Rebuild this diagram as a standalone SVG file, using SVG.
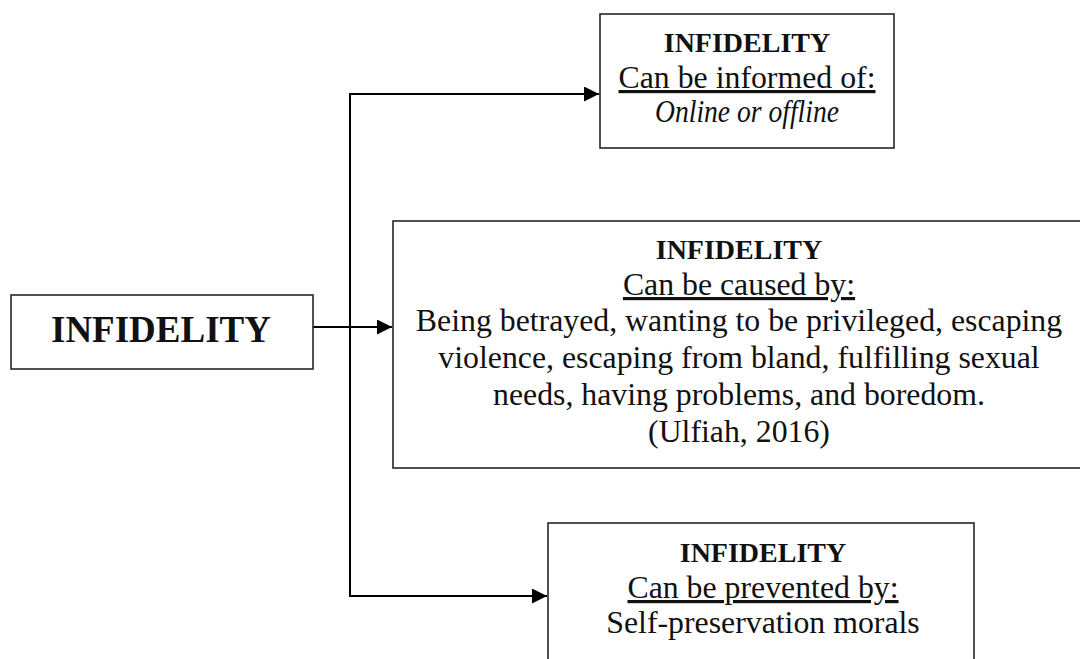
<svg xmlns="http://www.w3.org/2000/svg" width="1080" height="659" viewBox="0 0 1080 659">
<defs>
<style>
.box{fill:#fff;stroke:#262626;stroke-width:1.6}
.con{fill:none;stroke:#000;stroke-width:2}
text{font-family:"Liberation Serif","Times New Roman",serif;fill:#111;text-anchor:middle}
.t{font-size:31.8px}
.h{font-size:28px;font-weight:bold}
.big{font-size:37px;font-weight:bold}
.u{text-decoration:underline}
.i{font-style:italic}
</style>
<marker id="arr" markerUnits="userSpaceOnUse" markerWidth="15" markerHeight="15" refX="15" refY="7.5" orient="auto">
<path d="M0,0 L15,7.5 L0,15 Z" fill="#000"/>
</marker>
</defs>
<rect width="1080" height="659" fill="#fff"/>
<g id="connectors">
<line class="con" x1="313" y1="327" x2="392" y2="327" marker-end="url(#arr)"/>
<polyline class="con" points="350,94 350,596"/>
<line class="con" x1="349" y1="94" x2="599" y2="94" marker-end="url(#arr)"/>
<line class="con" x1="349" y1="596" x2="547" y2="596" marker-end="url(#arr)"/>
</g>
<g id="node-main">
<rect class="box" x="11" y="295" width="302" height="74"/>
<text class="big" x="161" y="342">INFIDELITY</text>
</g>
<g id="node-informed">
<rect class="box" x="600" y="14" width="294" height="134"/>
<text class="h" x="747" y="52">INFIDELITY</text>
<text class="t u" x="747" y="88">Can be informed of:</text>
<text class="t i" x="747" y="122" textLength="184" lengthAdjust="spacingAndGlyphs">Online or offline</text>
</g>
<g id="node-caused">
<rect class="box" x="393" y="221" width="700" height="247"/>
<text class="h" x="739" y="259">INFIDELITY</text>
<text class="t u" x="739" y="295">Can be caused by:</text>
<text class="t" x="739" y="331">Being betrayed, wanting to be privileged, escaping</text>
<text class="t" x="739" y="368">violence, escaping from bland, fulfilling sexual</text>
<text class="t" x="739" y="405">needs, having problems, and boredom.</text>
<text class="t" x="739" y="442">(Ulfiah, 2016)</text>
</g>
<g id="node-prevented">
<rect class="box" x="548" y="523" width="426" height="150"/>
<text class="h" x="763" y="562">INFIDELITY</text>
<text class="t u" x="763" y="598">Can be prevented by:</text>
<text class="t" x="763" y="633">Self-preservation morals</text>
</g>
</svg>
